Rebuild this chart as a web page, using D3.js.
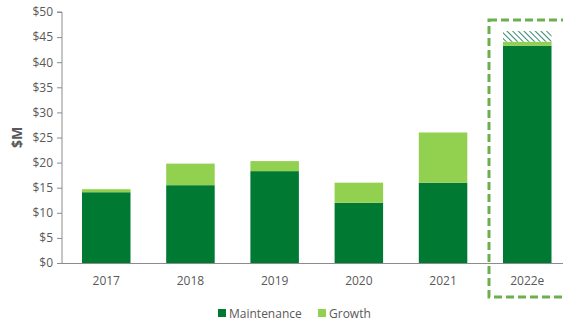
<!DOCTYPE html>
<html><head><meta charset="utf-8">
<script src="https://cdn.jsdelivr.net/npm/d3@7"></script>
<style>body{margin:0;background:#fff}svg{display:block}text{font-family:"Open Sans",sans-serif}</style>
</head><body>
<svg id="c" width="563" height="325"></svg>
<script>
const categories = ["2017","2018","2019","2020","2021","2022e"];
const maintenance = [14.1, 15.5, 18.3, 12.0, 16.0, 43.3];
const growth = [0.6, 4.3, 2.0, 4.0, 10.0, 0.8];
const estimate = [0, 0, 0, 0, 0, 2.1];
const yTicks = [0,5,10,15,20,25,30,35,40,45,50];
const seriesNames = ["Maintenance","Growth"];
const colors = {Maintenance:"#007a33", Growth:"#92d050", hatch:"#1f7a62"};

const svg = d3.select("#c");
const W = 563;
const x = d3.scaleBand().domain(categories).range([62, 571.5]).paddingInner(0.424).paddingOuter(0.2375);
const y = d3.scaleLinear().domain([0,50]).range([263, 12]);

const defs = svg.append("defs");
const pat = defs.append("pattern").attr("id","hatch").attr("patternUnits","userSpaceOnUse")
  .attr("width",4).attr("height",4).attr("patternTransform","rotate(-45)");
pat.append("rect").attr("width",4).attr("height",4).attr("fill","#fff");
pat.append("line").attr("x1",0).attr("y1",0).attr("x2",0).attr("y2",4).attr("stroke",colors.hatch).attr("stroke-width",1.8);

const data = categories.map((c,i)=>({cat:c, m:maintenance[i], g:growth[i], e:estimate[i]}));
const g = svg.append("g");
g.selectAll(".m").data(data).join("rect").attr("x",d=>x(d.cat)).attr("width",x.bandwidth())
  .attr("y",d=>y(d.m)).attr("height",d=>y(0)-y(d.m)).attr("fill",colors.Maintenance);
g.selectAll(".g").data(data).join("rect").attr("x",d=>x(d.cat)).attr("width",x.bandwidth())
  .attr("y",d=>y(d.m+d.g)).attr("height",d=>y(d.m)-y(d.m+d.g)).attr("fill",colors.Growth);
g.selectAll(".e").data(data.filter(d=>d.e>0)).join("rect").attr("x",d=>x(d.cat)).attr("width",x.bandwidth())
  .attr("y",d=>y(d.m+d.g+d.e)).attr("height",d=>y(d.m+d.g)-y(d.m+d.g+d.e)).attr("fill","url(#hatch)");

// y axis
const ya = svg.append("g").attr("transform",`translate(62,0)`)
  .call(d3.axisLeft(y).tickValues(yTicks).tickSize(5).tickFormat(d=>"$"+d));
ya.select(".domain").attr("stroke","#8c8c8c").attr("d",`M-5,${y(50)}H0V${y(0)}`);
ya.selectAll(".tick line").attr("stroke","#8c8c8c");
ya.selectAll(".tick text").attr("fill","#595959").attr("font-size",12).attr("x",-9);

// x axis
const xa = svg.append("g").attr("transform",`translate(0,${y(0)})`)
  .call(d3.axisBottom(x).tickSize(0).tickPadding(13));
xa.select(".domain").attr("stroke","#8c8c8c").attr("d",`M62,0.5H${W}`);
xa.selectAll(".tick text").attr("fill","#595959").attr("font-size",12);

svg.append("text").attr("transform",`translate(22,${(y(0)+y(50))/2}) rotate(-90)`)
  .attr("text-anchor","middle").attr("font-size",14).attr("font-weight","bold").attr("fill","#595959").text("$M");

// dashed highlight box around estimate
const bx = x("2022e") - 14;
svg.append("rect").attr("x",bx).attr("y",20).attr("width",W - bx + 10).attr("height",277)
  .attr("fill","none").attr("stroke","#6ab04c").attr("stroke-width",3).attr("stroke-dasharray","8,4");

// legend
const leg = svg.append("g").attr("transform","translate(218,313)");
seriesNames.forEach((n,i)=>{
  const it = leg.append("g").attr("transform",`translate(${i*100},0)`);
  it.append("rect").attr("x",0).attr("y",-4).attr("width",8).attr("height",8).attr("fill",colors[n]);
  it.append("text").attr("x",11).attr("y",4.5).attr("font-size",12).attr("fill","#595959").text(n);
});
</script>
</body></html>
